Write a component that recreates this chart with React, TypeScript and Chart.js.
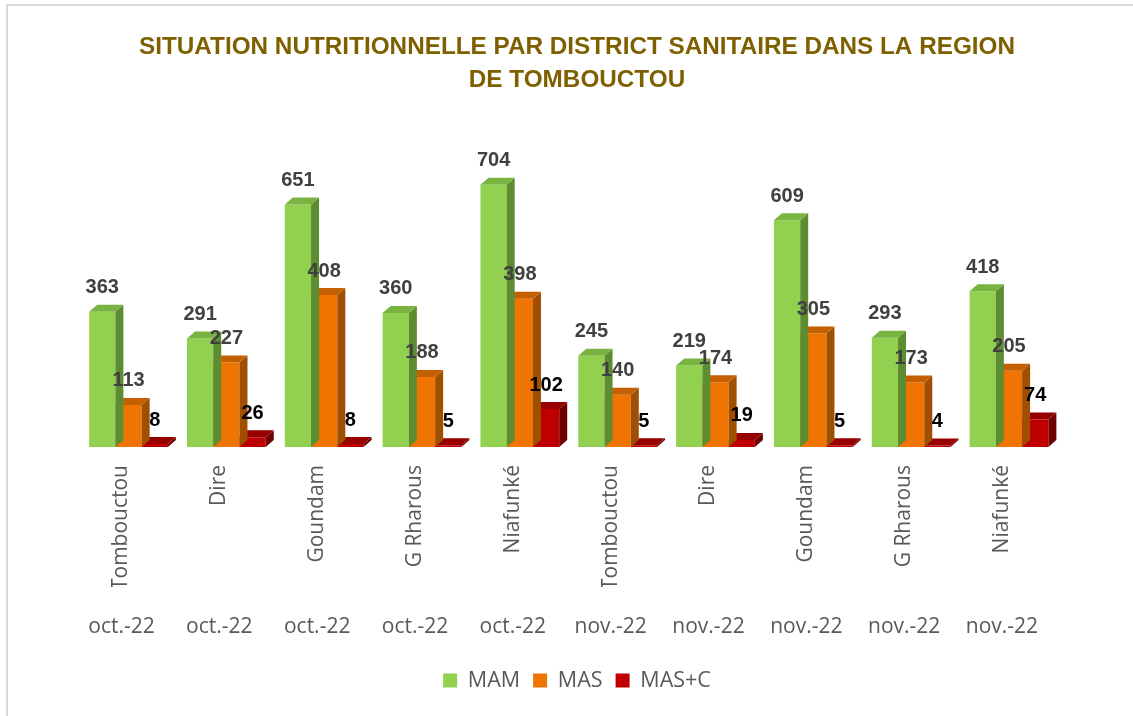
import React, { useEffect, useRef } from "react";
import { Chart, registerables } from "chart.js";

Chart.register(...registerables);

const titleLines = [
  "SITUATION NUTRITIONNELLE PAR DISTRICT SANITAIRE DANS LA REGION",
  "DE TOMBOUCTOU",
];
const districts = [
  "Tombouctou", "Dire", "Goundam", "G Rharous", "Niafunké",
  "Tombouctou", "Dire", "Goundam", "G Rharous", "Niafunké",
];
const months = [
  "oct.-22", "oct.-22", "oct.-22", "oct.-22", "oct.-22",
  "nov.-22", "nov.-22", "nov.-22", "nov.-22", "nov.-22",
];
const seriesNames = ["MAM", "MAS", "MAS+C"];
const mam = [363, 291, 651, 360, 704, 245, 219, 609, 293, 418];
const mas = [113, 227, 408, 188, 398, 140, 174, 305, 173, 205];
const masC = [8, 26, 8, 5, 102, 5, 19, 5, 4, 74];
const yMax = 800;

const faces = [
  { front: "#92D050", top: "#79B342", side: "#5E8C31", label: "#404040" },
  { front: "#F07402", top: "#C45F02", side: "#A04E00", label: "#404040" },
  { front: "#C00000", top: "#980000", side: "#6E0000", label: "#000000" },
];

const DX = 8;
const DY = 7;
const CANVAS_W = 1152;
const CANVAS_H = 716;

const bar3d = {
  id: "bar3d",
  afterDatasetDraw(chart: any, args: any) {
    const ctx = chart.ctx;
    const f = faces[args.index];
    args.meta.data.forEach((el: any) => {
      const { x, y, base, width } = el.getProps(["x", "y", "base", "width"], true);
      const l = x - width / 2;
      const r = x + width / 2;
      ctx.save();
      ctx.fillStyle = f.side;
      ctx.beginPath();
      ctx.moveTo(r, y);
      ctx.lineTo(r + DX, y - DY);
      ctx.lineTo(r + DX, base - DY);
      ctx.lineTo(r, base);
      ctx.closePath();
      ctx.fill();
      ctx.fillStyle = f.top;
      ctx.beginPath();
      ctx.moveTo(l, y);
      ctx.lineTo(l + DX, y - DY);
      ctx.lineTo(r + DX, y - DY);
      ctx.lineTo(r, y);
      ctx.closePath();
      ctx.fill();
      ctx.restore();
    });
  },
  afterDatasetsDraw(chart: any) {
    const ctx = chart.ctx;
    chart.data.datasets.forEach((ds: any, i: number) => {
      const meta = chart.getDatasetMeta(i);
      ctx.save();
      ctx.font = "bold 20px 'Liberation Sans'";
      ctx.fillStyle = faces[i].label;
      ctx.textAlign = "center";
      ctx.textBaseline = "middle";
      meta.data.forEach((el: any, j: number) => {
        const { x, y } = el.getProps(["x", "y"], true);
        ctx.fillText(String(ds.data[j]), x, y - 24);
      });
      ctx.restore();
    });
  },
};

export default function App() {
  const ref = useRef<HTMLCanvasElement | null>(null);
  useEffect(() => {
    if (!ref.current) return;
    const tickFont = { family: "'Open Sans'", size: 21 };
    const chart = new Chart(ref.current, {
      type: "bar",
      data: {
        labels: districts,
        datasets: [mam, mas, masC].map((d, i) => ({
          label: seriesNames[i],
          data: d,
          backgroundColor: faces[i].front,
          borderWidth: 0,
          categoryPercentage: 0.805,
          barPercentage: 1,
        })),
      },
      options: {
        animation: false,
        responsive: false,
        devicePixelRatio: 1,
        layout: { padding: { left: 79.6, right: 77.6, top: 0, bottom: 14.75 } },
        scales: {
          y: { display: false, min: 0, max: yMax },
          yR: {
            type: "linear",
            position: "right",
            display: true,
            min: 0,
            max: 1,
            grid: { display: false },
            border: { display: false },
            ticks: { display: false },
            afterFit: (s: any) => {
              s.width = 16.5;
            },
          },
          x: {
            type: "category",
            position: "bottom",
            offset: true,
            grid: { display: false },
            border: { display: false },
            ticks: {
              autoSkip: false,
              minRotation: 90,
              maxRotation: 90,
              padding: 10,
              labelOffset: -7,
              color: "#595959",
              font: tickFont,
            },
            afterFit: (s: any) => {
              s.height = 140;
            },
          },
          x2: {
            type: "category",
            labels: months,
            position: "bottom",
            weight: 1,
            offset: true,
            grid: { display: false },
            border: { display: false },
            ticks: {
              autoSkip: false,
              minRotation: 0,
              maxRotation: 0,
              padding: 19,
              labelOffset: -7,
              color: "#595959",
              font: tickFont,
            },
            afterFit: (s: any) => {
              s.height = 69.75;
            },
          },
        },
        plugins: {
          title: {
            display: true,
            text: titleLines,
            color: "#7F6000",
            font: { family: "'Liberation Sans'", size: 24.3, weight: "bold", lineHeight: 33 / 24.3 },
            padding: { top: 30.5, bottom: 52.5 },
          },
          legend: {
            position: "bottom",
            labels: {
              boxWidth: 14,
              boxHeight: 14,
              padding: 13,
              color: "#595959",
              font: { family: "'Open Sans'", size: 21.5 },
            },
          },
          tooltip: { enabled: false },
        },
      },
      plugins: [bar3d],
    });
    return () => chart.destroy();
  }, []);

  return (
    <div
      style={{
        position: "fixed",
        left: 0,
        top: 0,
        width: 1133,
        height: 716,
        background: "#fff",
        overflow: "hidden",
      }}
    >
      <div
        style={{
          position: "absolute",
          left: 6,
          top: 4,
          width: 1160,
          height: 760,
          border: "2px solid #D9D9D9",
          boxSizing: "border-box",
        }}
      />
      <canvas
        ref={ref}
        width={CANVAS_W}
        height={CANVAS_H}
        style={{ position: "absolute", left: 0, top: 0, width: CANVAS_W, height: CANVAS_H }}
      />
    </div>
  );
}
